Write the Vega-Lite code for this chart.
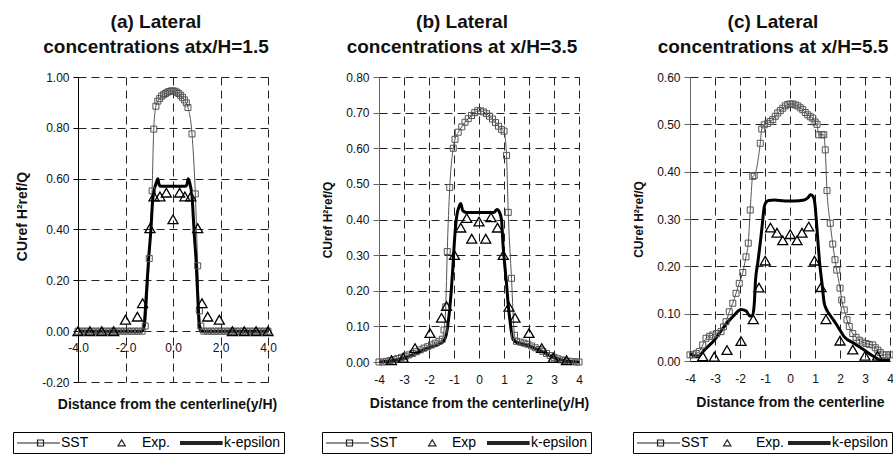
{
  "$schema": "https://vega.github.io/schema/vega-lite/v6.json",
  "padding": {"left": 12, "top": 13, "right": 0, "bottom": 0},
  "background": "white",
  "config": {
    "view": {"stroke": null},
    "font": "Liberation Sans",
    "axis": {
      "labelFont": "Liberation Sans", "labelFontSize": 12, "labelColor": "#111", "labelFlush": false, "labelOverlap": false,
      "titleFont": "Liberation Sans", "titleColor": "#111", "titleFontWeight": "bold",
      "gridColor": "#222", "gridDash": [8, 5], "gridWidth": 1, "gridOpacity": 1,
      "tickColor": "#000", "domainColor": "#000"
    },
    "title": {"font": "Liberation Sans", "fontSize": 19, "fontWeight": "bold", "color": "#111", "lineHeight": 25, "frame": "group", "anchor": "middle", "dx": -17, "offset": 14},
    "legend": {
      "orient": "none", "direction": "horizontal", "strokeColor": "#000", "padding": 3,
      "symbolSize": 196, "symbolStrokeWidth": 1.2, "symbolOpacity": 1,
      "labelFont": "Liberation Sans", "labelFontSize": 14, "labelColor": "#000",
      "labelOffset": 29, "columnPadding": 6, "title": null
    }
  },
  "datasets": {
    "a": [
      {"s":"SST","x":-4.0,"y":0},{"s":"SST","x":-3.85,"y":0},{"s":"SST","x":-3.7,"y":0},{"s":"SST","x":-3.55,"y":0},{"s":"SST","x":-3.4,"y":0},{"s":"SST","x":-3.25,"y":0},{"s":"SST","x":-3.1,"y":0},{"s":"SST","x":-2.95,"y":0},{"s":"SST","x":-2.8,"y":0},{"s":"SST","x":-2.65,"y":0},{"s":"SST","x":-2.5,"y":0},{"s":"SST","x":-2.35,"y":0},{"s":"SST","x":-2.2,"y":0},{"s":"SST","x":-2.05,"y":0},{"s":"SST","x":-1.9,"y":0},{"s":"SST","x":-1.75,"y":0},{"s":"SST","x":-1.6,"y":0},{"s":"SST","x":-1.45,"y":0},{"s":"SST","x":-1.3,"y":0},
      {"s":"SST","x":-1.17,"y":0.02},{"s":"SST","x":-1.0,"y":0.286},{"s":"SST","x":-0.88,"y":0.552},{"s":"SST","x":-0.81,"y":0.795},{"s":"SST","x":-0.72,"y":0.885},{"s":"SST","x":-0.64,"y":0.905},{"s":"SST","x":-0.56,"y":0.915},{"s":"SST","x":-0.48,"y":0.925},{"s":"SST","x":-0.4,"y":0.93},{"s":"SST","x":-0.32,"y":0.935},{"s":"SST","x":-0.24,"y":0.94},{"s":"SST","x":-0.16,"y":0.943},{"s":"SST","x":-0.08,"y":0.945},{"s":"SST","x":0,"y":0.945},{"s":"SST","x":0.08,"y":0.944},{"s":"SST","x":0.16,"y":0.94},{"s":"SST","x":0.24,"y":0.935},{"s":"SST","x":0.32,"y":0.928},{"s":"SST","x":0.4,"y":0.92},{"s":"SST","x":0.48,"y":0.91},{"s":"SST","x":0.56,"y":0.898},{"s":"SST","x":0.63,"y":0.88},{"s":"SST","x":0.8,"y":0.776},{"s":"SST","x":0.94,"y":0.54},{"s":"SST","x":1.04,"y":0.257},{"s":"SST","x":1.11,"y":0.08},{"s":"SST","x":1.17,"y":0.02},
      {"s":"SST","x":1.3,"y":0},{"s":"SST","x":1.45,"y":0},{"s":"SST","x":1.6,"y":0},{"s":"SST","x":1.75,"y":0},{"s":"SST","x":1.9,"y":0},{"s":"SST","x":2.05,"y":0},{"s":"SST","x":2.2,"y":0},{"s":"SST","x":2.35,"y":0},{"s":"SST","x":2.5,"y":0},{"s":"SST","x":2.65,"y":0},{"s":"SST","x":2.8,"y":0},{"s":"SST","x":2.95,"y":0},{"s":"SST","x":3.1,"y":0},{"s":"SST","x":3.25,"y":0},{"s":"SST","x":3.4,"y":0},{"s":"SST","x":3.55,"y":0},{"s":"SST","x":3.7,"y":0},{"s":"SST","x":3.85,"y":0},{"s":"SST","x":4.0,"y":0},
      {"s":"KE","x":-4,"y":0},{"s":"KE","x":-3,"y":0},{"s":"KE","x":-2,"y":0},{"s":"KE","x":-1.3,"y":0},{"s":"KE","x":-1.22,"y":0.02},{"s":"KE","x":-1.14,"y":0.12},{"s":"KE","x":-1.03,"y":0.28},{"s":"KE","x":-0.93,"y":0.4},{"s":"KE","x":-0.86,"y":0.51},{"s":"KE","x":-0.78,"y":0.56},{"s":"KE","x":-0.7,"y":0.585},{"s":"KE","x":-0.64,"y":0.6},{"s":"KE","x":-0.58,"y":0.575},{"s":"KE","x":-0.5,"y":0.57},{"s":"KE","x":0,"y":0.57},{"s":"KE","x":0.5,"y":0.57},{"s":"KE","x":0.58,"y":0.575},{"s":"KE","x":0.64,"y":0.6},{"s":"KE","x":0.7,"y":0.585},{"s":"KE","x":0.8,"y":0.53},{"s":"KE","x":0.9,"y":0.375},{"s":"KE","x":0.97,"y":0.28},{"s":"KE","x":1.03,"y":0.16},{"s":"KE","x":1.11,"y":0.02},{"s":"KE","x":1.2,"y":0},{"s":"KE","x":2,"y":0},{"s":"KE","x":3,"y":0},{"s":"KE","x":4,"y":0},
      {"s":"Exp","x":-4,"y":0},{"s":"Exp","x":-3.5,"y":0},{"s":"Exp","x":-3,"y":0},{"s":"Exp","x":-2.5,"y":0},{"s":"Exp","x":-2.0,"y":0.045},{"s":"Exp","x":-1.5,"y":0.057},{"s":"Exp","x":-1.28,"y":0.11},{"s":"Exp","x":-0.97,"y":0.405},{"s":"Exp","x":-0.8,"y":0.53},{"s":"Exp","x":-0.55,"y":0.53},{"s":"Exp","x":-0.28,"y":0.545},{"s":"Exp","x":0,"y":0.44},{"s":"Exp","x":0.28,"y":0.545},{"s":"Exp","x":0.5,"y":0.53},{"s":"Exp","x":0.75,"y":0.53},{"s":"Exp","x":1.04,"y":0.405},{"s":"Exp","x":1.22,"y":0.11},{"s":"Exp","x":1.46,"y":0.057},{"s":"Exp","x":1.95,"y":0.045},{"s":"Exp","x":2.5,"y":0},{"s":"Exp","x":3,"y":0},{"s":"Exp","x":3.5,"y":0},{"s":"Exp","x":4,"y":0}
    ],
    "b": [
      {"s":"SST","x":-4.0,"y":0},{"s":"SST","x":-3.85,"y":0},{"s":"SST","x":-3.7,"y":0.002},{"s":"SST","x":-3.55,"y":0.004},{"s":"SST","x":-3.4,"y":0.007},{"s":"SST","x":-3.25,"y":0.01},{"s":"SST","x":-3.1,"y":0.013},{"s":"SST","x":-2.95,"y":0.016},{"s":"SST","x":-2.8,"y":0.02},{"s":"SST","x":-2.65,"y":0.024},{"s":"SST","x":-2.5,"y":0.029},{"s":"SST","x":-2.35,"y":0.034},{"s":"SST","x":-2.2,"y":0.039},{"s":"SST","x":-2.05,"y":0.043},{"s":"SST","x":-1.9,"y":0.048},{"s":"SST","x":-1.75,"y":0.053},{"s":"SST","x":-1.6,"y":0.058},{"s":"SST","x":-1.47,"y":0.064},{"s":"SST","x":-1.4,"y":0.09},{"s":"SST","x":-1.33,"y":0.155},{"s":"SST","x":-1.27,"y":0.31},{"s":"SST","x":-1.17,"y":0.49},{"s":"SST","x":-1.03,"y":0.6},{"s":"SST","x":-0.96,"y":0.625},{"s":"SST","x":-0.83,"y":0.645},{"s":"SST","x":-0.69,"y":0.66},{"s":"SST","x":-0.56,"y":0.673},{"s":"SST","x":-0.43,"y":0.683},{"s":"SST","x":-0.3,"y":0.692},{"s":"SST","x":-0.17,"y":0.7},{"s":"SST","x":-0.05,"y":0.705},{"s":"SST","x":0.06,"y":0.705},{"s":"SST","x":0.18,"y":0.702},{"s":"SST","x":0.3,"y":0.697},{"s":"SST","x":0.42,"y":0.69},{"s":"SST","x":0.54,"y":0.682},{"s":"SST","x":0.66,"y":0.672},{"s":"SST","x":0.78,"y":0.662},{"s":"SST","x":0.9,"y":0.653},{"s":"SST","x":1.0,"y":0.648},{"s":"SST","x":1.1,"y":0.58},{"s":"SST","x":1.17,"y":0.42},{"s":"SST","x":1.3,"y":0.235},{"s":"SST","x":1.42,"y":0.075},{"s":"SST","x":1.5,"y":0.058},{"s":"SST","x":1.65,"y":0.056},{"s":"SST","x":1.8,"y":0.053},{"s":"SST","x":1.95,"y":0.05},{"s":"SST","x":2.1,"y":0.045},{"s":"SST","x":2.25,"y":0.04},{"s":"SST","x":2.4,"y":0.035},{"s":"SST","x":2.55,"y":0.03},{"s":"SST","x":2.7,"y":0.024},{"s":"SST","x":2.85,"y":0.018},{"s":"SST","x":3.0,"y":0.013},{"s":"SST","x":3.15,"y":0.009},{"s":"SST","x":3.3,"y":0.006},{"s":"SST","x":3.45,"y":0.004},{"s":"SST","x":3.6,"y":0.002},{"s":"SST","x":3.75,"y":0.001},{"s":"SST","x":3.9,"y":0},{"s":"SST","x":4.0,"y":0},
      {"s":"KE","x":-4,"y":0},{"s":"KE","x":-3,"y":0.01},{"s":"KE","x":-2.5,"y":0.025},{"s":"KE","x":-2,"y":0.04},{"s":"KE","x":-1.6,"y":0.05},{"s":"KE","x":-1.4,"y":0.06},{"s":"KE","x":-1.3,"y":0.08},{"s":"KE","x":-1.2,"y":0.13},{"s":"KE","x":-1.12,"y":0.19},{"s":"KE","x":-1.05,"y":0.26},{"s":"KE","x":-1.0,"y":0.32},{"s":"KE","x":-0.95,"y":0.37},{"s":"KE","x":-0.89,"y":0.41},{"s":"KE","x":-0.8,"y":0.435},{"s":"KE","x":-0.73,"y":0.445},{"s":"KE","x":-0.65,"y":0.425},{"s":"KE","x":-0.5,"y":0.42},{"s":"KE","x":0,"y":0.42},{"s":"KE","x":0.6,"y":0.42},{"s":"KE","x":0.72,"y":0.428},{"s":"KE","x":0.82,"y":0.42},{"s":"KE","x":0.9,"y":0.4},{"s":"KE","x":0.96,"y":0.33},{"s":"KE","x":1.02,"y":0.28},{"s":"KE","x":1.1,"y":0.22},{"s":"KE","x":1.17,"y":0.16},{"s":"KE","x":1.25,"y":0.11},{"s":"KE","x":1.35,"y":0.065},{"s":"KE","x":1.5,"y":0.055},{"s":"KE","x":2,"y":0.045},{"s":"KE","x":2.5,"y":0.03},{"s":"KE","x":3,"y":0.012},{"s":"KE","x":3.5,"y":0.003},{"s":"KE","x":4,"y":0},
      {"s":"Exp","x":-3.5,"y":0.005},{"s":"Exp","x":-3.03,"y":0.012},{"s":"Exp","x":-2.56,"y":0.039},{"s":"Exp","x":-1.96,"y":0.081},{"s":"Exp","x":-1.5,"y":0.124},{"s":"Exp","x":-1.3,"y":0.157},{"s":"Exp","x":-0.98,"y":0.3},{"s":"Exp","x":-0.73,"y":0.377},{"s":"Exp","x":-0.49,"y":0.404},{"s":"Exp","x":-0.29,"y":0.346},{"s":"Exp","x":0,"y":0.394},{"s":"Exp","x":0.27,"y":0.346},{"s":"Exp","x":0.48,"y":0.406},{"s":"Exp","x":0.74,"y":0.377},{"s":"Exp","x":0.97,"y":0.3},{"s":"Exp","x":1.2,"y":0.155},{"s":"Exp","x":1.44,"y":0.124},{"s":"Exp","x":2.0,"y":0.081},{"s":"Exp","x":2.51,"y":0.039},{"s":"Exp","x":2.97,"y":0.012},{"s":"Exp","x":3.5,"y":0.005}
    ],
    "c": [
      {"s":"SST","x":-4.0,"y":0.013},{"s":"SST","x":-3.89,"y":0.013},{"s":"SST","x":-3.75,"y":0.016},{"s":"SST","x":-3.63,"y":0.02},{"s":"SST","x":-3.49,"y":0.034},{"s":"SST","x":-3.36,"y":0.048},{"s":"SST","x":-3.22,"y":0.052},{"s":"SST","x":-3.09,"y":0.055},{"s":"SST","x":-2.93,"y":0.058},{"s":"SST","x":-2.76,"y":0.062},{"s":"SST","x":-2.66,"y":0.072},{"s":"SST","x":-2.56,"y":0.083},{"s":"SST","x":-2.43,"y":0.104},{"s":"SST","x":-2.29,"y":0.122},{"s":"SST","x":-2.16,"y":0.143},{"s":"SST","x":-2.03,"y":0.164},{"s":"SST","x":-1.89,"y":0.187},{"s":"SST","x":-1.76,"y":0.22},{"s":"SST","x":-1.67,"y":0.249},{"s":"SST","x":-1.59,"y":0.319},{"s":"SST","x":-1.49,"y":0.39},{"s":"SST","x":-1.43,"y":0.392},{"s":"SST","x":-1.19,"y":0.46},{"s":"SST","x":-1.13,"y":0.49},{"s":"SST","x":-1.03,"y":0.499},{"s":"SST","x":-0.89,"y":0.502},{"s":"SST","x":-0.79,"y":0.506},{"s":"SST","x":-0.69,"y":0.51},{"s":"SST","x":-0.59,"y":0.517},{"s":"SST","x":-0.49,"y":0.524},{"s":"SST","x":-0.39,"y":0.529},{"s":"SST","x":-0.29,"y":0.534},{"s":"SST","x":-0.19,"y":0.539},{"s":"SST","x":-0.09,"y":0.542},{"s":"SST","x":0.01,"y":0.543},{"s":"SST","x":0.11,"y":0.543},{"s":"SST","x":0.21,"y":0.541},{"s":"SST","x":0.31,"y":0.539},{"s":"SST","x":0.41,"y":0.535},{"s":"SST","x":0.51,"y":0.531},{"s":"SST","x":0.61,"y":0.525},{"s":"SST","x":0.71,"y":0.52},{"s":"SST","x":0.81,"y":0.516},{"s":"SST","x":0.91,"y":0.513},{"s":"SST","x":1.0,"y":0.505},{"s":"SST","x":1.08,"y":0.5},{"s":"SST","x":1.15,"y":0.478},{"s":"SST","x":1.28,"y":0.478},{"s":"SST","x":1.35,"y":0.478},{"s":"SST","x":1.41,"y":0.446},{"s":"SST","x":1.48,"y":0.36},{"s":"SST","x":1.61,"y":0.291},{"s":"SST","x":1.71,"y":0.247},{"s":"SST","x":1.8,"y":0.214},{"s":"SST","x":1.87,"y":0.192},{"s":"SST","x":2.0,"y":0.154},{"s":"SST","x":2.07,"y":0.129},{"s":"SST","x":2.17,"y":0.108},{"s":"SST","x":2.28,"y":0.087},{"s":"SST","x":2.37,"y":0.073},{"s":"SST","x":2.51,"y":0.058},{"s":"SST","x":2.64,"y":0.05},{"s":"SST","x":2.77,"y":0.044},{"s":"SST","x":2.9,"y":0.04},{"s":"SST","x":3.04,"y":0.037},{"s":"SST","x":3.17,"y":0.035},{"s":"SST","x":3.31,"y":0.034},{"s":"SST","x":3.41,"y":0.028},{"s":"SST","x":3.51,"y":0.023},{"s":"SST","x":3.61,"y":0.018},{"s":"SST","x":3.71,"y":0.013},{"s":"SST","x":3.85,"y":0.013},{"s":"SST","x":4.0,"y":0.013},
      {"s":"KE","x":-4.0,"y":0.016},{"s":"KE","x":-3.8,"y":0.01},{"s":"KE","x":-3.69,"y":0.009},{"s":"KE","x":-3.43,"y":0.023},{"s":"KE","x":-3.03,"y":0.044},{"s":"KE","x":-2.63,"y":0.073},{"s":"KE","x":-2.23,"y":0.097},{"s":"KE","x":-1.96,"y":0.109},{"s":"KE","x":-1.76,"y":0.106},{"s":"KE","x":-1.6,"y":0.095},{"s":"KE","x":-1.5,"y":0.096},{"s":"KE","x":-1.43,"y":0.12},{"s":"KE","x":-1.38,"y":0.17},{"s":"KE","x":-1.29,"y":0.207},{"s":"KE","x":-1.16,"y":0.263},{"s":"KE","x":-1.09,"y":0.298},{"s":"KE","x":-1.03,"y":0.326},{"s":"KE","x":-0.95,"y":0.336},{"s":"KE","x":-0.85,"y":0.339},{"s":"KE","x":-0.63,"y":0.34},{"s":"KE","x":-0.2,"y":0.338},{"s":"KE","x":0.17,"y":0.338},{"s":"KE","x":0.57,"y":0.34},{"s":"KE","x":0.72,"y":0.345},{"s":"KE","x":0.82,"y":0.351},{"s":"KE","x":0.92,"y":0.348},{"s":"KE","x":0.99,"y":0.335},{"s":"KE","x":1.05,"y":0.3},{"s":"KE","x":1.12,"y":0.25},{"s":"KE","x":1.18,"y":0.21},{"s":"KE","x":1.28,"y":0.164},{"s":"KE","x":1.37,"y":0.122},{"s":"KE","x":1.5,"y":0.105},{"s":"KE","x":1.64,"y":0.094},{"s":"KE","x":1.91,"y":0.073},{"s":"KE","x":2.17,"y":0.051},{"s":"KE","x":2.57,"y":0.037},{"s":"KE","x":2.97,"y":0.023},{"s":"KE","x":3.37,"y":0.009},{"s":"KE","x":3.64,"y":0.002},{"s":"KE","x":4.0,"y":0.002},
      {"s":"Exp","x":-3.49,"y":0.01},{"s":"Exp","x":-3.03,"y":0.009},{"s":"Exp","x":-2.52,"y":0.023},{"s":"Exp","x":-1.96,"y":0.042},{"s":"Exp","x":-1.47,"y":0.088},{"s":"Exp","x":-1.24,"y":0.155},{"s":"Exp","x":-0.99,"y":0.212},{"s":"Exp","x":-0.78,"y":0.282},{"s":"Exp","x":-0.52,"y":0.271},{"s":"Exp","x":-0.29,"y":0.255},{"s":"Exp","x":0.01,"y":0.268},{"s":"Exp","x":0.28,"y":0.255},{"s":"Exp","x":0.48,"y":0.271},{"s":"Exp","x":0.75,"y":0.284},{"s":"Exp","x":0.98,"y":0.212},{"s":"Exp","x":1.24,"y":0.156},{"s":"Exp","x":1.44,"y":0.088},{"s":"Exp","x":2.0,"y":0.043},{"s":"Exp","x":2.51,"y":0.024},{"s":"Exp","x":3.0,"y":0.011},{"s":"Exp","x":3.5,"y":0.011}
    ]
  },
  "hconcat": [
    {
      "width": 190, "height": 305,
      "title": {"text": ["(a) Lateral", "concentrations atx/H=1.5"]},
      "data": {"name": "a"},
      "layer": [
        {"transform": [{"filter": "datum.s === 'SST'"}], "mark": {"type": "line", "color": "#555", "strokeWidth": 1, "interpolate": "monotone"},
         "encoding": {
           "x": {"field": "x", "type": "quantitative", "scale": {"domain": [-4, 4], "nice": false},
                 "axis": {"values": [-4, -2, 0, 2, 4], "tickCount": 20, "format": ".1f", "labelExpr": "replace(datum.label, '\u2212', '-')", "labelOverlap": false, "labelFlush": false, "grid": true, "domain": false, "ticks": false, "labelPadding": 11, "offset": -51, "title": "Distance from the centerline(y/H)", "titleFontSize": 14, "titlePadding": 44, "titleX": 89}},
           "y": {"field": "y", "type": "quantitative", "scale": {"domain": [-0.2, 1.0], "nice": false, "zero": false},
                 "axis": {"values": [-0.2, 0, 0.2, 0.4, 0.6, 0.8, 1.0], "tickCount": 20, "format": ".2f", "labelExpr": "replace(datum.label, '\u2212', '-')", "labelOverlap": false, "labelFlush": false, "grid": true, "tickSize": 5, "labelPadding": 4, "title": "CUref H²ref/Q", "titleFontSize": 14, "titlePadding": 12, "titleY": 139}}
         }},
        {"transform": [{"filter": "datum.s === 'KE'"}], "mark": {"type": "line", "color": "#000", "strokeWidth": 3, "interpolate": "monotone"},
         "encoding": {"x": {"field": "x", "type": "quantitative"}, "y": {"field": "y", "type": "quantitative"}}},
        {"transform": [{"filter": "datum.s === 'SST'"}], "mark": {"type": "point", "shape": "square", "filled": false, "color": "#555", "size": 36, "strokeWidth": 1, "opacity": 1},
         "encoding": {"x": {"field": "x", "type": "quantitative"}, "y": {"field": "y", "type": "quantitative"}}},
        {"transform": [{"filter": "datum.s === 'Exp'"}], "mark": {"type": "point", "shape": "triangle-up", "filled": false, "color": "#000", "size": 100, "strokeWidth": 1.3, "opacity": 1},
         "encoding": {"x": {"field": "x", "type": "quantitative"}, "y": {"field": "y", "type": "quantitative"}}},
        {"data": {"values": [{"series": "SST"}, {"series": "Exp."}, {"series": "k-epsilon"}]},
         "mark": {"type": "point", "opacity": 0, "filled": false, "color": "#222"},
         "encoding": {"shape": {"field": "series", "type": "nominal",
           "scale": {"domain": ["SST", "Exp.", "k-epsilon"], "range": ["M-1,0H5.14M1.93,-0.43H2.79V0.43H1.93Z", "M-1,0M2.38,-0.45L2.9,0.4L1.86,0.4Z", "M-1,-0.21H5.09M-1,-0.07H5.09M-1,0.07H5.09M-1,0.21H5.09"]},
           "legend": {"legendX": -65, "legendY": 355, "columnPadding": 6}}}}
      ]
    },
    {
      "width": 200, "height": 285,
      "title": {"text": ["(b) Lateral", "concentrations at x/H=3.5"]},
      "data": {"name": "b"},
      "layer": [
        {"transform": [{"filter": "datum.s === 'SST'"}], "mark": {"type": "line", "color": "#555", "strokeWidth": 1, "interpolate": "monotone"},
         "encoding": {
           "x": {"field": "x", "type": "quantitative", "scale": {"domain": [-4, 4], "nice": false},
                 "axis": {"values": [-4, -3, -2, -1, 0, 1, 2, 3, 4], "tickCount": 20, "format": "d", "labelExpr": "replace(datum.label, '\u2212', '-')", "labelOverlap": false, "labelFlush": false, "grid": true, "domain": true, "ticks": false, "labelPadding": 12, "title": "Distance from the centerline(y/H)", "titleFontSize": 14, "titlePadding": 11}},
           "y": {"field": "y", "type": "quantitative", "scale": {"domain": [0, 0.8], "nice": false},
                 "axis": {"values": [0, 0.1, 0.2, 0.3, 0.4, 0.5, 0.6, 0.7, 0.8], "tickCount": 20, "format": ".2f", "labelOverlap": false, "labelFlush": false, "grid": true, "tickSize": 6, "labelPadding": 4, "domainColor": "#666", "tickColor": "#666", "title": "CUref H²ref/Q", "titleFontSize": 12, "titlePadding": 11}}
         }},
        {"transform": [{"filter": "datum.s === 'KE'"}], "mark": {"type": "line", "color": "#000", "strokeWidth": 3, "interpolate": "monotone"},
         "encoding": {"x": {"field": "x", "type": "quantitative"}, "y": {"field": "y", "type": "quantitative"}}},
        {"transform": [{"filter": "datum.s === 'SST'"}], "mark": {"type": "point", "shape": "square", "filled": false, "color": "#555", "size": 36, "strokeWidth": 1, "opacity": 1},
         "encoding": {"x": {"field": "x", "type": "quantitative"}, "y": {"field": "y", "type": "quantitative"}}},
        {"transform": [{"filter": "datum.s === 'Exp'"}], "mark": {"type": "point", "shape": "triangle-up", "filled": false, "color": "#000", "size": 100, "strokeWidth": 1.3, "opacity": 1},
         "encoding": {"x": {"field": "x", "type": "quantitative"}, "y": {"field": "y", "type": "quantitative"}}},
        {"data": {"values": [{"series": "SST"}, {"series": "Exp"}, {"series": "k-epsilon"}]},
         "mark": {"type": "point", "opacity": 0, "filled": false, "color": "#222"},
         "encoding": {"shape": {"field": "series", "type": "nominal",
           "scale": {"domain": ["SST", "Exp", "k-epsilon"], "range": ["M-1,0H5.14M1.93,-0.43H2.79V0.43H1.93Z", "M-1,0M2.46,-0.45L2.98,0.4L1.94,0.4Z", "M-1,-0.21H5.09M-1,-0.07H5.09M-1,0.07H5.09M-1,0.21H5.09"]},
           "legend": {"legendX": -57, "legendY": 355, "columnPadding": 7}}}}
      ]
    },
    {
      "width": 200, "height": 284,
      "title": {"text": ["(c) Lateral", "concentrations at x/H=5.5"]},
      "data": {"name": "c"},
      "layer": [
        {"transform": [{"filter": "datum.s === 'SST'"}], "mark": {"type": "line", "color": "#555", "strokeWidth": 1, "interpolate": "monotone"},
         "encoding": {
           "x": {"field": "x", "type": "quantitative", "scale": {"domain": [-4, 4], "nice": false},
                 "axis": {"values": [-4, -3, -2, -1, 0, 1, 2, 3, 4], "tickCount": 20, "format": "d", "labelExpr": "replace(datum.label, '\u2212', '-')", "labelOverlap": false, "labelFlush": false, "grid": true, "domain": true, "ticks": false, "labelPadding": 12, "title": "Distance from the centerline", "titleFontSize": 14, "titlePadding": 11}},
           "y": {"field": "y", "type": "quantitative", "scale": {"domain": [0, 0.6], "nice": false},
                 "axis": {"values": [0, 0.1, 0.2, 0.3, 0.4, 0.5, 0.6], "tickCount": 20, "format": ".2f", "labelOverlap": false, "labelFlush": false, "grid": true, "tickSize": 6, "labelPadding": 4, "domainColor": "#666", "tickColor": "#666", "title": "CUref H²ref/Q", "titleFontSize": 12, "titlePadding": 11}}
         }},
        {"transform": [{"filter": "datum.s === 'KE'"}], "mark": {"type": "line", "color": "#000", "strokeWidth": 3, "interpolate": "monotone"},
         "encoding": {"x": {"field": "x", "type": "quantitative"}, "y": {"field": "y", "type": "quantitative"}}},
        {"transform": [{"filter": "datum.s === 'SST'"}], "mark": {"type": "point", "shape": "square", "filled": false, "color": "#555", "size": 36, "strokeWidth": 1, "opacity": 1},
         "encoding": {"x": {"field": "x", "type": "quantitative"}, "y": {"field": "y", "type": "quantitative"}}},
        {"transform": [{"filter": "datum.s === 'Exp'"}], "mark": {"type": "point", "shape": "triangle-up", "filled": false, "color": "#000", "size": 100, "strokeWidth": 1.3, "opacity": 1},
         "encoding": {"x": {"field": "x", "type": "quantitative"}, "y": {"field": "y", "type": "quantitative"}}},
        {"data": {"values": [{"series": "SST"}, {"series": "Exp."}, {"series": "k-epsilon"}]},
         "mark": {"type": "point", "opacity": 0, "filled": false, "color": "#222"},
         "encoding": {"shape": {"field": "series", "type": "nominal",
           "scale": {"domain": ["SST", "Exp.", "k-epsilon"], "range": ["M-1,0H5.14M1.93,-0.43H2.79V0.43H1.93Z", "M-1,0M1.17,-0.45L1.69,0.4L0.65,0.4Z", "M-1,-0.21H5.09M-1,-0.07H5.09M-1,0.07H5.09M-1,0.21H5.09"]},
           "legend": {"legendX": -57, "legendY": 355, "columnPadding": 0}}}}
      ]
    }
  ],
  "spacing": 111,
  "bounds": "flush",
  "resolve": {"scale": {"shape": "independent", "x": "independent", "y": "independent"}, "legend": {"shape": "independent"}}
}
